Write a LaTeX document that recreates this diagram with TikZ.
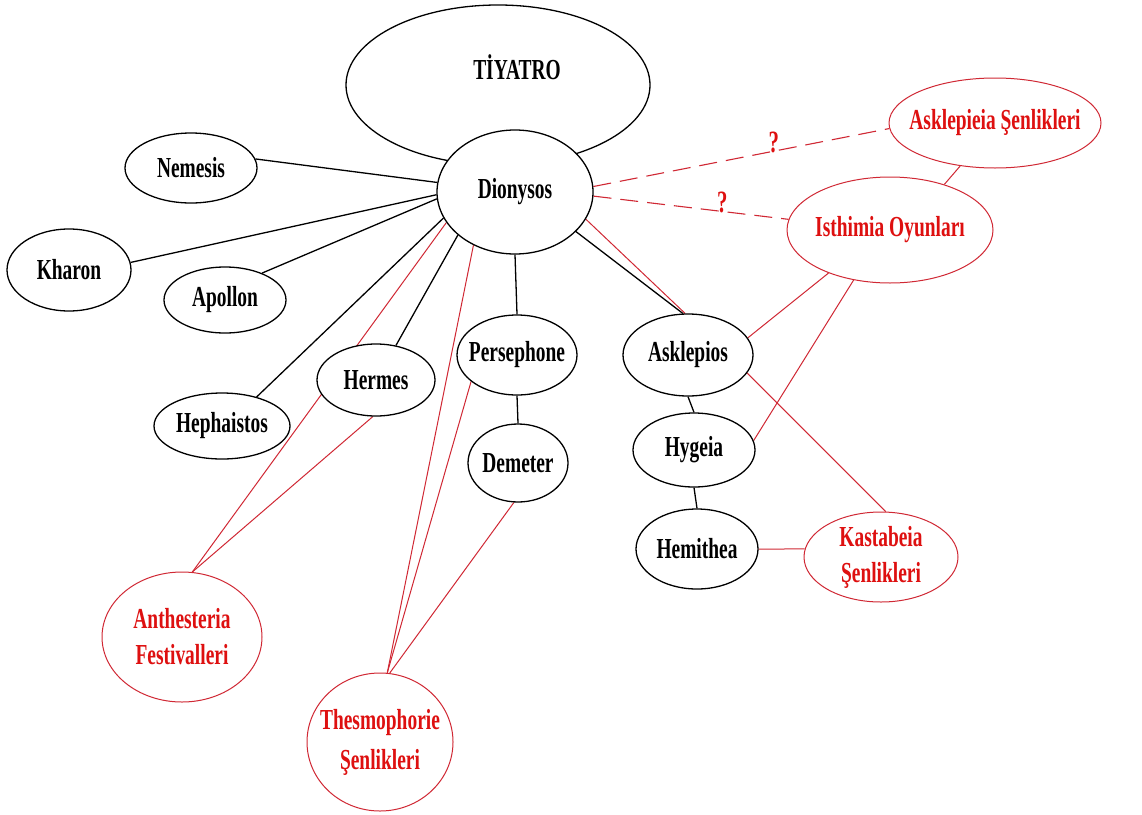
\documentclass[tikz,border=0pt]{standalone}
\usepackage{fontspec}
\setmainfont{Liberation Serif}[FakeStretch=0.67]
\usetikzlibrary{shapes.geometric}
\pgfdeclarelayer{paper}
\pgfdeclarelayer{background}
\pgfsetlayers{paper,background,main}
\definecolor{txtred}{RGB}{222,16,16}
\definecolor{linered}{RGB}{208,40,52}
\newcommand\zb[1]{\makebox[0pt][c]{#1}}
\begin{document}
\begin{tikzpicture}[x=1pt,y=-1pt,
 every node/.style={font=\fontsize{29}{36}\selectfont\bfseries, align=center, inner sep=0pt},
 god/.style={ellipse, draw=black, line width=1.3pt, fill=white},
 fest/.style={ellipse, draw=linered, line width=1pt, fill=white, text=txtred},
 blk/.style={draw=black, line width=1.3pt},
 rl/.style={draw=linered, line width=1pt},
 dl/.style={draw=linered, line width=1.1pt, dash pattern=on 18pt off 9pt},
 qm/.style={text=txtred, font=\fontsize{31}{31}\selectfont\bfseries}
]
\useasboundingbox (0,0) rectangle (1142,814);
\begin{pgfonlayer}{paper}
\fill[white] (0,0) rectangle (1142,814);
\end{pgfonlayer}
% big ellipse
\node[god, minimum width=304pt, minimum height=160pt] (tiy) at (498,85) {};
\node (tiyt) at (517,67) {TİYATRO};
% gods
\node[god, minimum width=156pt, minimum height=124pt] (dio) at (515,192) {\zb{Dionysos}};
\node[god, minimum width=132pt, minimum height=70pt] (nem) at (191,168) {\zb{Nemesis}};
\node[god, minimum width=124pt, minimum height=82pt] (kha) at (69,270) {\zb{Kharon}};
\node[god, minimum width=122pt, minimum height=66pt] (apo) at (225,300) {\zb{Apollon}};
\node[god, minimum width=118pt, minimum height=72pt] (her) at (376,380) {\zb{Hermes}};
\node[god, minimum width=136pt, minimum height=66pt] (hep) at (222,426) {\zb{Hephaistos}};
\node[god, minimum width=120pt, minimum height=80pt] (per) at (517,355) {\zb{Persephone}};
\node[god, minimum width=100pt, minimum height=78pt] (dem) at (518,463) {\zb{Demeter}};
\node[god, minimum width=130pt, minimum height=82pt] (ask) at (688,355) {\zb{Asklepios}};
\node[god, minimum width=122pt, minimum height=74pt] (hyg) at (694,450) {\zb{Hygeia}};
\node[god, minimum width=122pt, minimum height=80pt] (hem) at (697,549) {\zb{Hemithea}};
% festivals
\node[fest, minimum width=154pt, minimum height=90pt] (kas) at (881,557) {\zb{Kastabeia}\\\zb{Şenlikleri}};
\node[fest, minimum width=212pt, minimum height=90pt] (asf) at (995,123) {\zb{Asklepieia Şenlikleri}};
\node[fest, minimum width=206pt, minimum height=106pt] (ist) at (890,230) {\zb{Isthimia Oyunları}};
\node[fest, minimum width=160pt, minimum height=130pt] (ant) at (182,637) {\zb{Anthesteria}\\\zb{Festivalleri}};
\node[fest, minimum width=146pt, minimum height=138pt, font=\fontsize{29}{40}\selectfont\bfseries] (the) at (380,742) {\zb{Thesmophorie}\\\zb{Şenlikleri}};
\begin{pgfonlayer}{background}
% black connectors
\draw[blk] (nem.8) -- (dio.173);
\draw[blk] (kha.7) -- (dio.182);
\draw[blk] (apo.36) -- (dio.185);
\draw[blk] (hep.40) -- (dio.200);
\draw[blk] (her.60) -- (dio.217);
\draw[blk] (per.90) -- (dio.270);
\draw[blk] (dio.-33) -- (ask.97);
\draw[blk] (per.270) -- (dem.90);
\draw[blk] (ask.270) -- (hyg.90);
\draw[blk] (hyg.270) -- (hem.90);
% red connectors
\draw[rl] (dio.-21) -- (ask.94);
\draw[rl] (ask.16) -- (ist.215);
\draw[rl] (hyg.9) -- (ist.234);
\draw[rl] (ask.-17) -- (kas.84);
\draw[rl] (hem.0) -- (kas.174);
\draw[rl] (asf.231) -- (ist.40);
\draw[rl] (her.265) -- (ant.81);
\draw[rl] (dio.204) -- (ant.81);
\draw[rl] (dio.232) -- (the.84);
\draw[rl] (per.210) -- (the.84);
\draw[rl] (dem.264) -- (the.82);
% dashed
\draw[dl] (dio.4) -- node[qm, pos=0.61, above=-2pt] (q1) {?} (asf.183);
\draw[dl] (dio.-3) -- node[qm, pos=0.66, above=-2pt] (q2) {?} (ist.174);
\end{pgfonlayer}
\end{tikzpicture}
\end{document}
